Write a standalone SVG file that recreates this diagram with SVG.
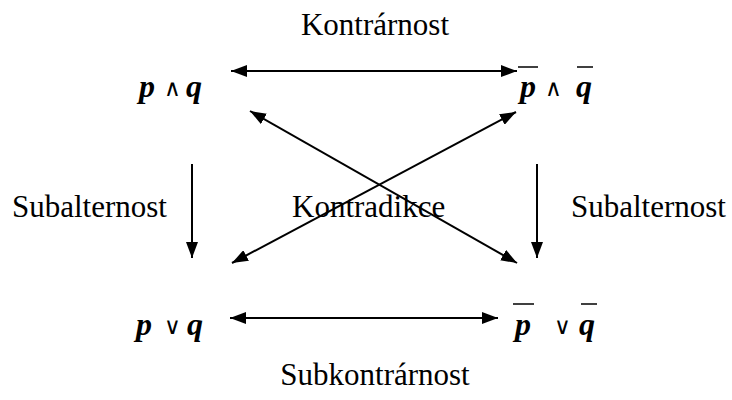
<svg xmlns="http://www.w3.org/2000/svg" width="732" height="400" viewBox="0 0 732 400">
<style>
.lbl{font-family:"Liberation Serif","Times New Roman",serif;font-size:31px;fill:#000}
.v{font-family:"Liberation Serif","Times New Roman",serif;font-size:32px;font-weight:bold;font-style:italic;fill:#000}
.op{font-family:"DejaVu Serif","Liberation Serif",serif;font-size:23px;fill:#000}
.ln{stroke:#000;stroke-width:2;fill:none}
.bar{stroke:#000;stroke-width:1.5}
</style>
<defs>
<marker id="ah" viewBox="0 0 16 12" refX="16" refY="6" markerWidth="16" markerHeight="12" markerUnits="userSpaceOnUse" orient="auto-start-reverse">
<path d="M0,0 L16,6 L0,12 Z" fill="#000"/>
</marker>
</defs>
<rect width="732" height="400" fill="#fff"/>
<g id="labels">
<text class="lbl" x="375" y="35" text-anchor="middle">Kontrárnost</text>
<text class="lbl" x="12" y="217">Subalternost</text>
<text class="lbl" x="292" y="217">Kontradikce</text>
<text class="lbl" x="571" y="217">Subalternost</text>
<text class="lbl" x="375" y="385" text-anchor="middle">Subkontrárnost</text>
</g>
<g id="n-tl">
<text class="v" x="139" y="97">p</text>
<text class="op" x="164" y="96">∧</text>
<text class="v" x="186" y="97">q</text>
</g>
<g id="n-tr">
<text class="v" x="520" y="97">p</text>
<text class="op" x="545" y="96">∧</text>
<text class="v" x="576" y="97">q</text>
<line class="bar" x1="518" y1="67" x2="538" y2="67"/>
<line class="bar" x1="577" y1="67" x2="593" y2="67"/>
</g>
<g id="n-bl">
<text class="v" x="136" y="335">p</text>
<text class="op" x="164" y="334">∨</text>
<text class="v" x="187" y="335">q</text>
</g>
<g id="n-br">
<text class="v" x="515" y="335">p</text>
<text class="op" x="554" y="334">∨</text>
<text class="v" x="579" y="335">q</text>
<line class="bar" x1="513" y1="304" x2="534" y2="304"/>
<line class="bar" x1="581" y1="304" x2="597" y2="304"/>
</g>
<g id="connectors">
<line class="ln" x1="231" y1="71" x2="517" y2="71" marker-start="url(#ah)" marker-end="url(#ah)"/>
<line class="ln" x1="230" y1="318" x2="498" y2="318" marker-start="url(#ah)" marker-end="url(#ah)"/>
<line class="ln" x1="192" y1="164" x2="192" y2="258" marker-end="url(#ah)"/>
<line class="ln" x1="537" y1="164" x2="537" y2="258" marker-end="url(#ah)"/>
<line class="ln" x1="250" y1="111" x2="517" y2="263" marker-start="url(#ah)" marker-end="url(#ah)"/>
<line class="ln" x1="232" y1="263" x2="516" y2="112" marker-start="url(#ah)" marker-end="url(#ah)"/>
</g>
</svg>
